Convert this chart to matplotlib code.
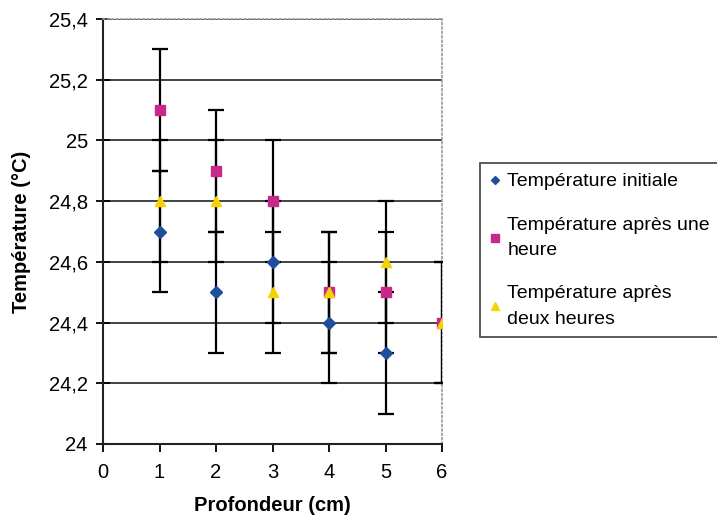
import matplotlib
matplotlib.use("Agg")
import matplotlib.pyplot as plt
from matplotlib.ticker import FuncFormatter, MultipleLocator

plt.rcParams['font.family'] = ['Liberation Sans', 'DejaVu Sans']

# data
depth_initial = [1, 2, 3, 4, 5]
temp_initial = [24.7, 24.5, 24.6, 24.4, 24.3]
depth_1h = [1, 2, 3, 4, 5, 6]
temp_1h = [25.1, 24.9, 24.8, 24.5, 24.5, 24.4]
depth_2h = [1, 2, 3, 4, 5, 6]
temp_2h = [24.8, 24.8, 24.5, 24.5, 24.6, 24.4]
err = 0.2

labels = ["Température initiale",
          "Température après une\nheure",
          "Température après\ndeux heures"]
colors = ["#1f4e9c", "#c8288a", "#f6d200"]
markers = ["D", "s", "^"]

fig = plt.figure(figsize=(7.17, 5.21), dpi=100)
ax = fig.add_axes([0.1437, 0.1478, 0.4728, 0.8157])

series = [(depth_initial, temp_initial), (depth_1h, temp_1h), (depth_2h, temp_2h)]

# error bars first, then markers on top
for xs, ys in series:
    ax.errorbar(xs, ys, yerr=err, fmt='none', ecolor='black', elinewidth=1.6,
                capsize=6, capthick=1.6, zorder=3)

sizes = [6, 7, 7]
for (xs, ys), lab, c, m, s in zip(series, labels, colors, markers, sizes):
    ax.plot(xs, ys, linestyle='none', marker=m, color=c, markersize=s,
            markeredgecolor=c, label=lab, zorder=4)

ax.set_xlim(0, 6)
ax.set_ylim(24, 25.4)
ax.xaxis.set_major_locator(MultipleLocator(1))
ax.yaxis.set_major_locator(MultipleLocator(0.2))
ax.yaxis.set_major_formatter(FuncFormatter(lambda v, p: f"{v:g}".replace('.', ',')))

ax.grid(axis='y', color='#222222', linewidth=1.2, zorder=1)
ax.set_axisbelow(True)

for side in ['top', 'right']:
    ax.spines[side].set_linestyle(':')
    ax.spines[side].set_color('#999999')
    ax.spines[side].set_linewidth(1.2)
for side in ['left', 'bottom']:
    ax.spines[side].set_color('#222222')
    ax.spines[side].set_linewidth(1.5)

ax.tick_params(axis='x', direction='out', length=6, width=1.3, labelsize=14.5, pad=8)
ax.tick_params(axis='y', direction='inout', length=10, width=1.3, labelsize=14.5, pad=6)

ax.set_xlabel("Profondeur (cm)", fontsize=14.5, fontweight='bold', labelpad=10)
ax.set_ylabel("Température (°C)", fontsize=14.5, fontweight='bold', labelpad=13)

leg = fig.legend(loc='upper left', bbox_to_anchor=(480 / 717, 1 - 163 / 521),
                 frameon=True, fancybox=False, fontsize=14, labelspacing=1.35,
                 handlelength=0.5, handletextpad=0.4, borderpad=0.5,
                 markerscale=0.75, borderaxespad=0)
for t in leg.get_texts():
    t.set_linespacing(1.65)
leg.get_frame().set_edgecolor('#222222')
leg.get_frame().set_linewidth(1.3)

fig.savefig("out.png", dpi=100)
